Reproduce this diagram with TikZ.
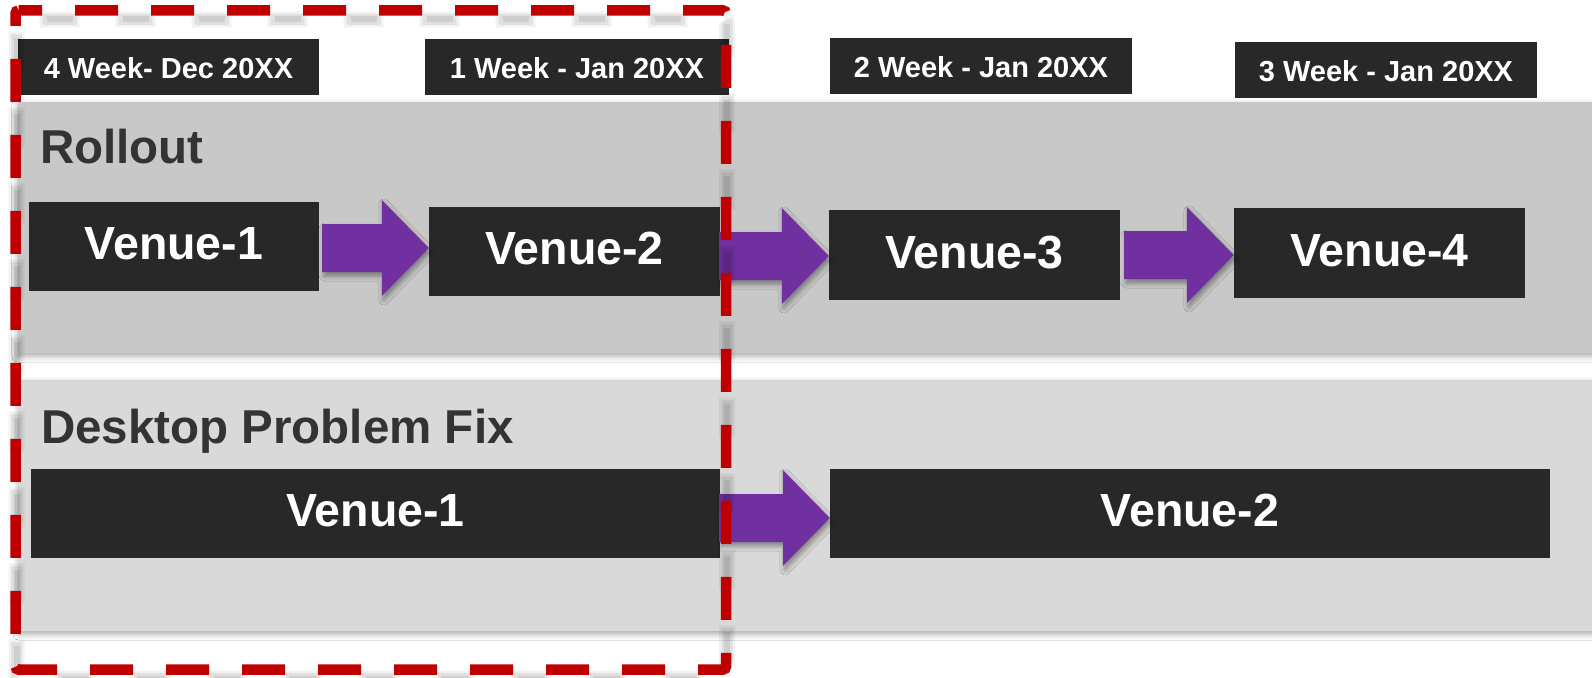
\documentclass[tikz,border=0pt]{standalone}
\usepackage{fontspec}
\setmainfont{Liberation Sans}
\usetikzlibrary{calc,shadows.blur}

\definecolor{boxdark}{RGB}{40,40,40}
\definecolor{bandtop}{RGB}{200,200,200}
\definecolor{bandlow}{RGB}{217,217,217}
\definecolor{arrowpurple}{RGB}{112,48,160}
\definecolor{framered}{RGB}{192,0,0}
\definecolor{labelgray}{RGB}{51,51,51}

\tikzset{
  band/.style={fill=#1, blur shadow={shadow xshift=0pt, shadow yshift=-3pt,
      shadow blur radius=6pt, shadow opacity=35}},
  datebox/.style={fill=boxdark, text=white, inner sep=0pt,
      font=\bfseries\fontsize{29}{29}\selectfont,
      text height=25.5pt, text depth=2pt, minimum height=56pt},
  venuebox/.style={fill=boxdark, text=white, inner sep=0pt,
      font=\bfseries\fontsize{46.5}{46.5}\selectfont,
      text height=34pt, text depth=8pt, minimum height=89pt},
  rowlabel/.style={anchor=base west, inner sep=0pt, text=labelgray,
      font=\bfseries\fontsize{47.5}{47.5}\selectfont},
  blockarrow/.style={fill=arrowpurple, blur shadow={shadow xshift=2pt,
      shadow yshift=-4pt, shadow blur radius=5pt, shadow opacity=40}},
  redframe/.style={draw=framered, line width=10.5pt, rounded corners=3pt,
      dash pattern=on 43pt off 33pt, dash phase=19.5pt},
  frameshade/.style={draw=black, rounded corners=3pt},
}

% outline of the highlighted period
\def\frameoutline{(15.5,10.5) -- (726,10.5) -- (726,669.5) -- (15.5,669.5) -- cycle}

% block arrow from node #1 to node #2: tail offset #3 (px), axis height #4 (px)
\newcommand{\blockarrow}[4]{%
  \path[blockarrow] let \p1=(#1.east), \p2=(#2.west) in
    ({\x1+(#3pt)},{-(#4pt)+24pt}) -- ({\x2-47pt},{-(#4pt)+24pt})
    -- ({\x2-47pt},{-(#4pt)+48pt}) -- ({\x2},{-(#4pt)})
    -- ({\x2-47pt},{-(#4pt)-48pt}) -- ({\x2-47pt},{-(#4pt)-24pt})
    -- ({\x1+(#3pt)},{-(#4pt)-24pt}) -- cycle;}

\begin{document}
\begin{tikzpicture}[x=1pt,y=-1pt]
\useasboundingbox (0,0) rectangle (1592,677);
\fill[white] (0,0) rectangle (1592,677);

% swim lanes
\begin{scope}
  \clip (0,0) rectangle (1592,677);
  \path[band=bandtop] (18,102) rectangle (1610,353);
  \path[band=bandlow] (19,380) rectangle (1610,631);
\end{scope}

% week headers
\node[datebox, minimum width=301pt] (wk4) at (168.5,67) {4 Week- Dec 20XX};
\node[datebox, minimum width=304pt] (wk1) at (577,67) {1 Week - Jan 20XX};
\node[datebox, minimum width=302pt, minimum height=55pt] (wk2) at (981,66) {2 Week - Jan 20XX};
\node[datebox, minimum width=302pt, minimum height=55pt] (wk3) at (1386,70) {3 Week - Jan 20XX};

% lane titles
\node[rowlabel] (rollout) at (40,163.5) {Rollout};
\node[rowlabel] (desktop) at (41,443) {Desktop Problem Fix};

% rollout venues
\node[venuebox, minimum width=290pt] (v1) at (174,246.5) {Venue-1};
\node[venuebox, minimum width=291pt] (v2) at (574.5,251.5) {Venue-2};
\node[venuebox, minimum width=291pt, minimum height=90pt] (v3) at (974.5,255) {Venue-3};
\node[venuebox, minimum width=291pt, minimum height=90pt] (v4) at (1379.5,253) {Venue-4};

% desktop fix venues
\node[venuebox, minimum width=689pt] (d1) at (375.5,513.5) {Venue-1};
\node[venuebox, minimum width=720pt] (d2) at (1190,513.5) {Venue-2};

% flow arrows
\blockarrow{v1}{v2}{3}{248}
\blockarrow{v2}{v3}{-1}{256}
\blockarrow{v3}{v4}{4}{255}
\blockarrow{d1}{d2}{-1}{518}

% soft shadow of the highlight frame
\begin{scope}[shift={(1,9)}]
  \draw[frameshade, opacity=0.05, line width=16pt, dash pattern=on 40pt off 36pt, dash phase=56pt] \frameoutline;
  \draw[frameshade, opacity=0.07, line width=11pt, dash pattern=on 34pt off 42pt, dash phase=53pt] \frameoutline;
  \draw[frameshade, opacity=0.08, line width=6pt, dash pattern=on 26pt off 50pt, dash phase=49pt] \frameoutline;
\end{scope}

% highlight frame around the current period
\draw[redframe] \frameoutline;
\end{tikzpicture}
\end{document}
